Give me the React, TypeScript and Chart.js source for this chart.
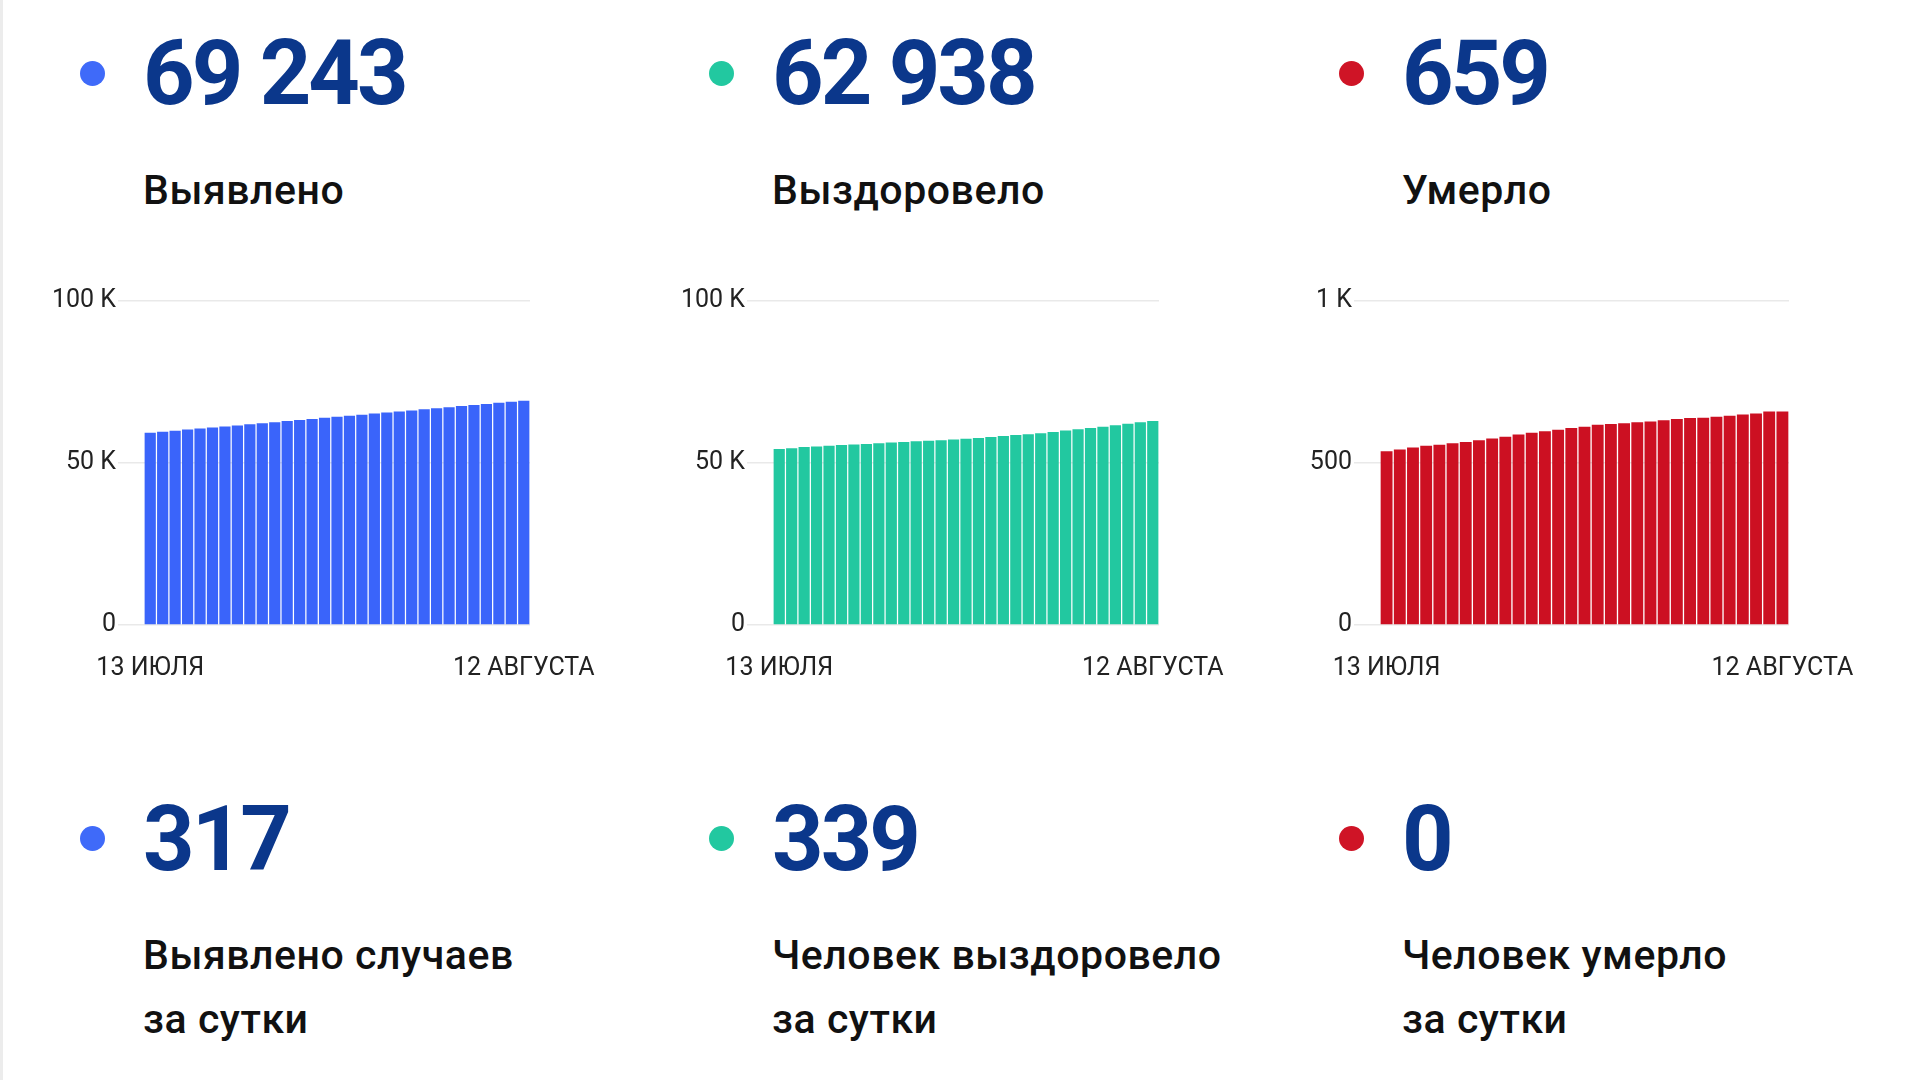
import React, { useEffect, useRef } from "react";
import { Chart, registerables } from "chart.js";

Chart.register(...registerables);

// ---- DATA ----
const categories = [
  "13 ИЮЛЯ", "14 ИЮЛЯ", "15 ИЮЛЯ", "16 ИЮЛЯ", "17 ИЮЛЯ", "18 ИЮЛЯ", "19 ИЮЛЯ",
  "20 ИЮЛЯ", "21 ИЮЛЯ", "22 ИЮЛЯ", "23 ИЮЛЯ", "24 ИЮЛЯ", "25 ИЮЛЯ", "26 ИЮЛЯ",
  "27 ИЮЛЯ", "28 ИЮЛЯ", "29 ИЮЛЯ", "30 ИЮЛЯ", "31 ИЮЛЯ", "1 АВГУСТА", "2 АВГУСТА",
  "3 АВГУСТА", "4 АВГУСТА", "5 АВГУСТА", "6 АВГУСТА", "7 АВГУСТА", "8 АВГУСТА",
  "9 АВГУСТА", "10 АВГУСТА", "11 АВГУСТА", "12 АВГУСТА",
];

const detectedTotal = [
  59310, 59650, 59960, 60310, 60620, 60950, 61300, 61610, 61940, 62280, 62600,
  62950, 63270, 63590, 63940, 64260, 64580, 64930, 65250, 65570, 65920, 66240,
  66560, 66910, 67230, 67560, 67890, 68220, 68580, 68926, 69243,
];

const recoveredTotal = [
  54330, 54540, 54900, 55120, 55340, 55550, 55700, 55880, 56080, 56290, 56490,
  56700, 56830, 57010, 57220, 57500, 57730, 58020, 58330, 58640, 58870, 59180,
  59590, 60000, 60400, 60800, 61220, 61640, 62100, 62599, 62938,
];

const deathsTotal = [
  536, 542, 548, 553, 556, 561, 565, 570, 576, 581, 588, 593, 598, 603, 608,
  612, 618, 620, 623, 626, 628, 632, 636, 639, 640, 643, 646, 650, 653, 659, 659,
];

const casesTickValues = [0, 50000, 100000];
const casesTickLabels = ["0", "50 K", "100 K"];
const deathsTickValues = [0, 500, 1000];
const deathsTickLabels = ["0", "500", "1 K"];

const totalNumbers = ["69 243", "62 938", "659"];
const totalLabels = ["Выявлено", "Выздоровело", "Умерло"];
const dailyNumbers = ["317", "339", "0"];
const dailyLabels = [
  ["Выявлено случаев", "за сутки"],
  ["Человек выздоровело", "за сутки"],
  ["Человек умерло", "за сутки"],
];

const seriesColors = ["#3a64fa", "#22c8a0", "#cc1022"];
const dotColors = ["#3f6af9", "#22c8a0", "#cf1426"];

// ---- LAYOUT ----
const COL_X = [0, 629, 1259];
const NUMBER_COLOR = "#0b378b";
const FONT = "Roboto, 'Noto Sans', sans-serif";

type BarChartProps = {
  values: number[];
  color: string;
  tickValues: number[];
  tickLabels: string[];
  yAxisWidth: number;
};

function BarChart({ values, color, tickValues, tickLabels, yAxisWidth }: BarChartProps) {
  const ref = useRef<HTMLCanvasElement | null>(null);
  useEffect(() => {
    if (!ref.current) return;
    const last = categories.length - 1;
    const chart = new Chart(ref.current, {
      type: "bar",
      data: {
        labels: categories,
        datasets: [
          {
            data: values,
            backgroundColor: color,
            borderWidth: 0,
            barPercentage: 0.9,
            categoryPercentage: 1,
          },
        ],
      },
      options: {
        animation: false,
        responsive: false,
        devicePixelRatio: 1,
        layout: { padding: { top: 21, right: 110, bottom: 0, left: 0 } },
        plugins: { legend: { display: false }, tooltip: { enabled: false } },
        scales: {
          x: {
            grid: { display: false, drawTicks: false },
            border: { display: false },
            ticks: {
              autoSkip: false,
              maxRotation: 0,
              minRotation: 0,
              padding: 29,
              color: "#222",
              font: { family: FONT, size: 25 },
              callback: (_v: any, i: number) =>
                i === 0 || i === last ? categories[i] : "",
            },
            afterFit: (s: any) => {
              s.height = 80;
            },
          },
          y: {
            min: tickValues[0],
            max: tickValues[tickValues.length - 1],
            grid: { color: "#e9e9e9", lineWidth: 1.5, drawTicks: true, tickLength: 26 },
            border: { display: false },
            ticks: {
              stepSize: tickValues[1] - tickValues[0],
              padding: 2,
              color: "#222",
              font: { family: FONT, size: 25 },
              callback: (v: any) => {
                const idx = tickValues.indexOf(Number(v));
                return idx >= 0 ? tickLabels[idx] : "";
              },
            },
            afterFit: (s: any) => {
              s.width = yAxisWidth;
            },
          },
        },
      } as any,
    });
    return () => chart.destroy();
  }, [values, color, tickValues, tickLabels, yAxisWidth]);
  return <canvas ref={ref} width={600} height={425} style={{ width: 600, height: 425, display: "block" }} />;
}

const chartSeries = [detectedTotal, recoveredTotal, deathsTotal];
const chartTickValues = [casesTickValues, casesTickValues, deathsTickValues];
const chartTickLabels = [casesTickLabels, casesTickLabels, deathsTickLabels];
const chartYAxisWidth = [104, 104, 81];

const numberStyle: React.CSSProperties = {
  position: "absolute",
  fontSize: 90,
  lineHeight: "90px",
  fontWeight: 700,
  letterSpacing: "-3px",
  color: NUMBER_COLOR,
  whiteSpace: "nowrap",
};

const labelStyle: React.CSSProperties = {
  position: "absolute",
  fontSize: 41,
  lineHeight: "64px",
  fontWeight: 500,
  letterSpacing: "0.55px",
  color: "#111",
  whiteSpace: "nowrap",
};

export default function App() {
  useEffect(() => {
    document.body.style.margin = "0";
  }, []);
  return (
    <div
      style={{
        position: "fixed",
        left: 0,
        top: 0,
        width: 1920,
        height: 1080,
        background: "#fff",
        fontFamily: FONT,
        overflow: "hidden",
      }}
    >
      <div style={{ position: "absolute", left: 0, top: 0, width: 3, height: 1080, background: "#ececec" }} />
      {COL_X.map((x, i) => (
        <React.Fragment key={i}>
          <div
            style={{
              position: "absolute",
              left: x + 92 - 12.5,
              top: 73 - 12.5,
              width: 25,
              height: 25,
              borderRadius: "50%",
              background: dotColors[i],
            }}
          />
          <div style={{ ...numberStyle, left: x + 143, top: 29 }}>{totalNumbers[i]}</div>
          <div style={{ ...labelStyle, left: x + 143, top: 158 }}>{totalLabels[i]}</div>
          <div style={{ position: "absolute", left: x + 40, top: 280 }}>
            <BarChart
              values={chartSeries[i]}
              color={seriesColors[i]}
              tickValues={chartTickValues[i]}
              tickLabels={chartTickLabels[i]}
              yAxisWidth={chartYAxisWidth[i]}
            />
          </div>
          <div
            style={{
              position: "absolute",
              left: x + 92 - 12.5,
              top: 838 - 12.5,
              width: 25,
              height: 25,
              borderRadius: "50%",
              background: dotColors[i],
            }}
          />
          <div style={{ ...numberStyle, left: x + 143, top: 795 }}>{dailyNumbers[i]}</div>
          <div style={{ ...labelStyle, left: x + 143, top: 923 }}>
            {dailyLabels[i].map((line, j) => (
              <div key={j}>{line}</div>
            ))}
          </div>
        </React.Fragment>
      ))}
    </div>
  );
}
